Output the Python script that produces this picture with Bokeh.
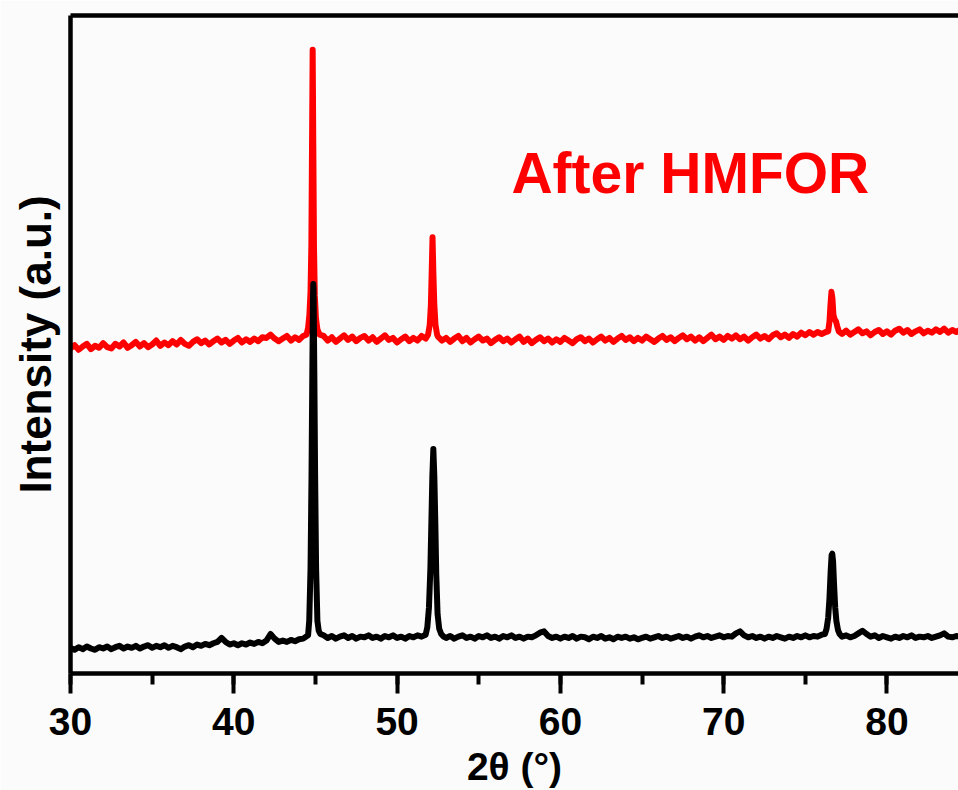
from bokeh.plotting import figure
from bokeh.models import (LinearAxis, FixedTicker, SingleIntervalTicker, Range1d, Label)
from bokeh.embed import file_html
from bokeh.resources import INLINE

# ---------------- data ----------------
# black trace: baseline samples and peaks
black_x_a = [30.00, 30.25, 30.50, 30.75, 31.00, 31.25, 31.50, 31.75,
             32.00, 32.25, 32.50, 32.75, 33.00, 33.25, 33.50, 33.75,
             34.00, 34.25, 34.50, 34.75, 35.00, 35.25, 35.50, 35.75,
             36.00, 36.25, 36.50, 36.75, 37.00, 37.25, 37.50, 37.75,
             38.00, 38.25, 38.50, 38.75, 39.00, 39.25, 39.50, 39.75,
             40.00, 40.25, 40.50, 40.75, 41.00, 41.25, 41.50, 41.75,
             42.00, 42.25, 42.50, 42.75, 43.00, 43.25, 43.50, 43.75,
             44.00, 44.25]
black_y_a = [3.9, 3.6, 4.0, 3.7, 4.1, 3.8, 3.6, 4.0,
             3.8, 4.1, 3.7, 4.0, 4.2, 3.8, 4.1, 3.9,
             4.2, 3.8, 4.1, 4.3, 3.9, 4.2, 4.0, 4.3,
             3.9, 4.2, 4.0, 3.7, 4.1, 4.3, 4.0, 4.4,
             4.2, 4.5, 4.3, 4.6, 4.8, 5.4, 4.8, 4.4,
             4.6, 4.3, 4.6, 4.4, 4.7, 4.5, 4.8, 4.6,
             5.0, 6.0, 5.3, 4.8, 5.0, 4.8, 5.1, 4.9,
             5.2, 5.3]
black_x_p1 = [44.55, 44.62, 44.70, 44.76, 44.81, 44.85, 44.87, 44.89, 44.93, 44.98, 45.04, 45.12, 45.20, 45.30]
black_y_p1 = [5.8, 8.0, 16.0, 30.0, 46.0, 57.0, 59.2, 57.0, 46.0, 30.0, 16.0, 8.0, 6.5, 6.0]
black_x_b = [45.50, 45.75, 46.00, 46.25, 46.50, 46.75, 47.00, 47.25,
             47.50, 47.75, 48.00, 48.25, 48.50, 48.75, 49.00, 49.25,
             49.50, 49.75, 50.00, 50.25, 50.50, 50.75, 51.00, 51.25, 51.50]
black_y_b = [5.8, 5.4, 5.7, 5.3, 5.6, 5.8, 5.4, 5.7,
             5.3, 5.6, 5.5, 5.8, 5.4, 5.6, 5.3, 5.7,
             5.5, 5.8, 5.4, 5.6, 5.3, 5.7, 5.5, 5.8, 5.6]
black_x_p2 = [51.75, 51.85, 51.95, 52.04, 52.10, 52.16, 52.22, 52.28, 52.34, 52.40, 52.48, 52.58, 52.70, 52.85]
black_y_p2 = [5.9, 7.0, 10.0, 16.0, 23.0, 30.0, 34.1, 30.0, 23.0, 15.0, 9.0, 6.8, 6.0, 5.6]
black_x_c = [53.00, 53.25, 53.50, 53.75, 54.00, 54.25, 54.50, 54.75,
             55.00, 55.25, 55.50, 55.75, 56.00, 56.25, 56.50, 56.75,
             57.00, 57.25, 57.50, 57.75, 58.00, 58.25, 58.50, 58.75,
             59.00, 59.25, 59.50, 59.75, 60.00, 60.25, 60.50, 60.75,
             61.00, 61.25, 61.50, 61.75, 62.00, 62.25, 62.50, 62.75,
             63.00, 63.25, 63.50, 63.75, 64.00, 64.25, 64.50, 64.75,
             65.00, 65.25, 65.50, 65.75, 66.00, 66.25, 66.50, 66.75,
             67.00, 67.25, 67.50, 67.75, 68.00, 68.25, 68.50, 68.75,
             69.00, 69.25, 69.50, 69.75, 70.00, 70.25, 70.50, 70.75,
             71.00, 71.25, 71.50, 71.75, 72.00, 72.25, 72.50, 72.75,
             73.00, 73.25, 73.50, 73.75, 74.00, 74.25, 74.50, 74.75,
             75.00, 75.25, 75.50, 75.75, 76.00]
black_y_c = [5.4, 5.7, 5.3, 5.6, 5.8, 5.4, 5.6, 5.3,
             5.7, 5.5, 5.8, 5.4, 5.6, 5.3, 5.7, 5.5,
             5.8, 5.4, 5.6, 5.3, 5.6, 5.5, 5.8, 6.2,
             6.4, 5.7, 5.4, 5.6, 5.3, 5.6, 5.4, 5.7,
             5.3, 5.6, 5.5, 5.2, 5.6, 5.4, 5.7, 5.3,
             5.5, 5.2, 5.6, 5.4, 5.6, 5.3, 5.5, 5.2,
             5.4, 5.6, 5.3, 5.5, 5.7, 5.4, 5.6, 5.3,
             5.5, 5.7, 5.4, 5.6, 5.3, 5.6, 5.8, 5.5,
             5.7, 5.4, 5.6, 5.8, 5.5, 5.7, 5.6, 6.1,
             6.4, 5.8, 5.5, 5.7, 5.4, 5.6, 5.3, 5.6,
             5.4, 5.7, 5.5, 5.3, 5.6, 5.4, 5.7, 5.5,
             5.8, 5.5, 5.7, 5.6, 5.9]
black_x_p3 = [76.20, 76.30, 76.40, 76.48, 76.55, 76.61, 76.65, 76.70, 76.76, 76.83, 76.90, 77.00, 77.10]
black_y_p3 = [6.0, 6.8, 8.5, 11.5, 15.5, 18.0, 18.2, 17.0, 13.5, 10.0, 8.0, 6.6, 6.0]
black_x_d = [77.25, 77.50, 77.75, 78.00, 78.25, 78.50, 78.75, 79.00,
             79.25, 79.50, 79.75, 80.00, 80.25, 80.50, 80.75, 81.00,
             81.25, 81.50, 81.75, 82.00, 82.25, 82.50, 82.75, 83.00,
             83.25, 83.50, 83.75, 84.00, 84.25, 84.50]
black_y_d = [5.6, 5.8, 5.5, 5.7, 6.1, 6.5, 6.0, 5.6,
             5.8, 5.4, 5.7, 5.5, 5.3, 5.6, 5.4, 5.7,
             5.5, 5.8, 5.4, 5.6, 5.5, 5.7, 5.4, 5.6,
             5.8, 6.1, 5.6, 5.5, 5.7, 5.6]

# red trace ("After HMFOR")
red_x_a = list(black_x_a)
red_y_a = [49.4, 49.9, 49.2, 49.7, 50.1, 49.3, 49.8, 49.5,
           50.2, 49.6, 49.4, 50.1, 49.7, 50.3, 49.5, 49.9,
           50.4, 49.7, 50.2, 49.6, 50.0, 50.6, 49.8, 50.3,
           49.9, 50.5, 50.0, 50.7, 50.1, 49.8, 50.4, 50.8,
           50.2, 50.6, 50.0, 50.5, 50.9, 50.3, 50.7, 50.1,
           50.6, 51.0, 50.3, 50.8, 50.4, 50.9, 50.5, 51.1,
           51.0, 51.5, 50.9, 50.5, 50.9, 51.3, 50.6, 51.1,
           50.7, 51.3]
red_x_p1 = [44.45, 44.55, 44.63, 44.70, 44.75, 44.79, 44.83, 44.87, 44.91, 44.96, 45.03, 45.12, 45.25]
red_y_p1 = [51.5, 52.5, 54.5, 58.0, 65.0, 80.0, 94.8, 80.0, 65.0, 57.5, 54.0, 52.3, 51.5]
red_x_b = [45.50, 45.75, 46.00, 46.25, 46.50, 46.75, 47.00, 47.25,
           47.50, 47.75, 48.00, 48.25, 48.50, 48.75, 49.00, 49.25,
           49.50, 49.75, 50.00, 50.25, 50.50, 50.75, 51.00, 51.25,
           51.50, 51.75]
red_y_b = [51.3, 50.6, 51.1, 50.4, 50.9, 51.4, 50.7, 51.2,
           50.5, 51.0, 51.3, 50.6, 51.1, 50.4, 50.9, 51.4,
           50.7, 51.0, 50.3, 50.8, 51.2, 50.5, 51.0, 50.6,
           51.3, 50.9]
red_x_p2 = [51.90, 52.00, 52.07, 52.12, 52.17, 52.22, 52.28, 52.35, 52.45]
red_y_p2 = [51.5, 53.0, 56.0, 61.0, 66.3, 61.0, 56.0, 53.0, 51.5]
red_x_c = [52.50, 52.75, 53.00, 53.25, 53.50, 53.75, 54.00, 54.25,
           54.50, 54.75, 55.00, 55.25, 55.50, 55.75, 56.00, 56.25,
           56.50, 56.75, 57.00, 57.25, 57.50, 57.75, 58.00, 58.25,
           58.50, 58.75, 59.00, 59.25, 59.50, 59.75, 60.00, 60.25,
           60.50, 60.75, 61.00, 61.25, 61.50, 61.75, 62.00, 62.25,
           62.50, 62.75, 63.00, 63.25, 63.50, 63.75, 64.00, 64.25,
           64.50, 64.75, 65.00, 65.25, 65.50, 65.75, 66.00, 66.25,
           66.50, 66.75, 67.00, 67.25, 67.50, 67.75, 68.00, 68.25,
           68.50, 68.75, 69.00, 69.25, 69.50, 69.75, 70.00, 70.25,
           70.50, 70.75, 71.00, 71.25, 71.50, 71.75, 72.00, 72.25,
           72.50, 72.75, 73.00, 73.25, 73.50, 73.75, 74.00, 74.25,
           74.50, 74.75, 75.00, 75.25, 75.50, 75.75, 76.00, 76.25]
red_y_c = [51.2, 50.6, 51.0, 50.4, 50.9, 51.3, 50.5, 51.0,
           50.3, 50.8, 51.2, 50.6, 50.9, 50.2, 50.7, 51.1,
           50.5, 50.9, 50.3, 50.8, 51.2, 50.4, 50.9, 50.2,
           50.7, 51.1, 50.5, 50.9, 50.3, 50.8, 50.4, 51.0,
           50.6, 50.2, 50.8, 51.1, 50.5, 50.9, 50.3, 50.8,
           51.2, 50.6, 51.0, 50.4, 50.9, 51.3, 50.7, 51.1,
           50.5, 51.0, 50.6, 51.2, 50.8, 50.4, 50.9, 51.3,
           50.7, 51.1, 50.5, 51.0, 51.4, 50.8, 51.2, 50.6,
           51.1, 50.5, 51.0, 51.5, 50.8, 51.2, 50.7, 51.3,
           50.9, 51.4, 50.8, 51.2, 50.6, 51.1, 51.5, 50.9,
           51.3, 50.8, 51.4, 51.7, 51.1, 51.5, 51.0, 51.6,
           51.2, 51.8, 51.4, 51.9, 51.5, 51.9, 51.6, 51.9]
red_x_p3 = [76.40, 76.48, 76.54, 76.60, 76.66, 76.72, 76.80, 76.88, 76.95, 77.05]
red_y_p3 = [52.0, 53.5, 56.0, 58.0, 57.0, 54.5, 53.8, 53.5, 52.8, 52.0]
red_x_d = list(black_x_d)
red_y_d = [51.6, 52.1, 51.5, 51.9, 52.3, 51.7, 52.0, 51.4,
           51.9, 52.2, 51.6, 52.0, 51.5, 52.1, 52.4, 51.8,
           52.2, 51.6, 52.0, 52.3, 51.7, 52.1, 51.8, 52.3,
           51.9, 52.4, 51.8, 52.2, 51.9, 52.3]

x_label = "2θ (°)"
y_label = "Intensity (a.u.)"
note_text = "After HMFOR"
note_x = 57.0
note_y = 76.0

black_x = black_x_a + black_x_p1 + black_x_b + black_x_p2 + black_x_c + black_x_p3 + black_x_d
black_y = black_y_a + black_y_p1 + black_y_b + black_y_p2 + black_y_c + black_y_p3 + black_y_d
red_x = red_x_a + red_x_p1 + red_x_b + red_x_p2 + red_x_c + red_x_p3 + red_x_d
red_y = red_y_a + red_y_p1 + red_y_b + red_y_p2 + red_y_c + red_y_p3 + red_y_d

# ---------------- figure ----------------
FONT = "Liberation Sans"
BG = "#fbfbfb"

p = figure(width=958, height=790, output_backend="svg", toolbar_location=None,
           x_range=Range1d(30, 84.38), y_range=Range1d(0, 100),
           min_border_left=70, min_border_right=0, min_border_top=15, min_border_bottom=117,
           x_axis_location="below", y_axis_location="left")
p.background_fill_color = BG
p.border_fill_color = BG
p.outline_line_color = None
p.grid.visible = False

p.line(red_x, red_y, line_color="#ff0000", line_width=6, line_join="round")
p.line(black_x, black_y, line_color="#000000", line_width=6, line_join="round")

xa = p.xaxis[0]
xa.ticker = SingleIntervalTicker(interval=10, num_minor_ticks=2)
xa.axis_line_width = 4.5
xa.axis_line_color = "black"
xa.major_tick_out = 20
xa.major_tick_in = 0
xa.major_tick_line_width = 4
xa.minor_tick_out = 11
xa.minor_tick_in = 0
xa.minor_tick_line_width = 4
xa.major_label_text_font = FONT
xa.major_label_text_font_style = "bold"
xa.major_label_text_font_size = "39px"
xa.major_label_text_color = "black"
xa.major_label_standoff = 14
xa.axis_label = x_label
xa.axis_label_text_font = FONT
xa.axis_label_text_font_style = "bold"
xa.axis_label_text_font_size = "39px"
xa.axis_label_text_color = "black"
xa.axis_label_standoff = 7

ya = p.yaxis[0]
ya.ticker = FixedTicker(ticks=[])
ya.axis_line_width = 4.5
ya.axis_line_color = "black"
ya.major_tick_line_color = None
ya.minor_tick_line_color = None
ya.major_label_text_font_size = "0px"
ya.axis_label = y_label
ya.axis_label_text_font = FONT
ya.axis_label_text_font_style = "bold"
ya.axis_label_text_font_size = "44px"
ya.axis_label_text_color = "black"
ya.axis_label_standoff = 11

top_axis = LinearAxis(ticker=FixedTicker(ticks=[]), axis_line_width=4.5, axis_line_color="black",
                      major_tick_line_color=None, minor_tick_line_color=None,
                      major_label_text_font_size="0px")
p.add_layout(top_axis, "above")

p.add_layout(Label(x=note_x, y=note_y, text=note_text, text_font=FONT, text_font_style="bold",
                   text_font_size="57px", text_color="#ff0000", text_baseline="alphabetic"))

open("out.html", "w").write(file_html(p, INLINE))
